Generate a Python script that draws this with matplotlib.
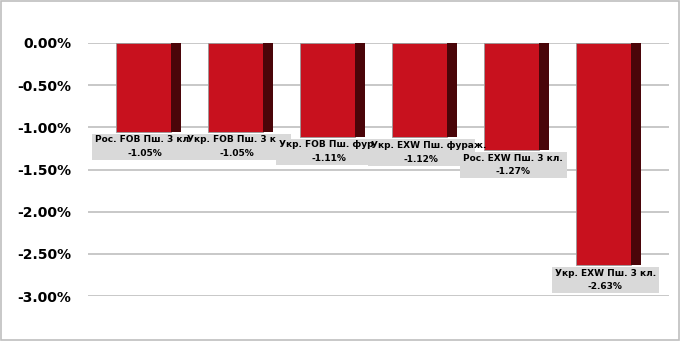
import matplotlib.pyplot as plt
from matplotlib.patches import Rectangle
from matplotlib.ticker import FuncFormatter

# label texts as shown on the chart (the first three are cut off by the next box)
labels = [
    "Рос. FOB Пш. 3 кл",
    "Укр. FOB Пш. 3 к",
    "Укр. FOB Пш. фур",
    "Укр. EXW Пш. фураж.",
    "Рос. EXW Пш. 3 кл.",
    "Укр. EXW Пш. 3 кл.",
]
values = [-1.05, -1.05, -1.11, -1.12, -1.27, -2.63]
yticks = [0.0, -0.5, -1.0, -1.5, -2.0, -2.5, -3.0]

FRONT = "#c8111e"
SIDE = "#4a0509"
GRID = "#bfbfbf"
BOX = "#d9d9d9"

fig = plt.figure(figsize=(6.81, 3.41), dpi=100)
ax = fig.add_axes([88 / 681, 45 / 341, 581 / 681, 253 / 341])

xs = list(range(len(values)))
front_w = 0.598
side_w = 0.109
half = (front_w + side_w) / 2

ax.bar([x - half for x in xs], values, width=front_w, align="edge",
       color=FRONT, edgecolor="#9a9a9a", linewidth=0.6, zorder=3)
ax.bar([x - half + front_w for x in xs], values, width=side_w, align="edge",
       color=SIDE, edgecolor="none", zorder=3)

# data labels in grey boxes
box_w = 1.163   # ~107 px
box_h = 0.31    # ~26 px
gap = 0.024
for i, (x, v, name) in enumerate(zip(xs, values, labels)):
    cx = x - 0.035
    top = v - gap
    ax.add_patch(Rectangle((cx - box_w / 2, top - box_h), box_w, box_h,
                           facecolor=BOX, edgecolor="none", clip_on=False,
                           zorder=10 + i))
    ax.text(cx - box_w / 2 + 0.035, top - box_h * 0.24, name, ha="left", va="center",
            fontsize=6.5, fontweight="bold", zorder=20, clip_on=False)
    ax.text(cx, top - box_h * 0.76, f"{v:.2f}%", ha="center", va="center",
            fontsize=6.5, fontweight="bold", zorder=20, clip_on=False)

ax.set_xlim(-0.658, 5.658)
ax.set_ylim(-3.0, 0.0)
ax.set_yticks(yticks)
ax.yaxis.set_major_formatter(FuncFormatter(lambda v, p: f"{v:.2f}%"))
ax.set_xticks([])
ax.tick_params(axis="y", length=0, pad=12, labelsize=10)
for lab in ax.get_yticklabels():
    lab.set_fontweight("bold")
ax.grid(axis="y", color=GRID, linewidth=1.2, zorder=0)
ax.set_axisbelow(True)
for s in ax.spines.values():
    s.set_visible(False)

fig.patches.append(Rectangle((0.002, 0.004), 0.995, 0.992, transform=fig.transFigure,
                             fill=False, edgecolor=GRID, linewidth=1.2))

fig.savefig("out.png", dpi=100)
